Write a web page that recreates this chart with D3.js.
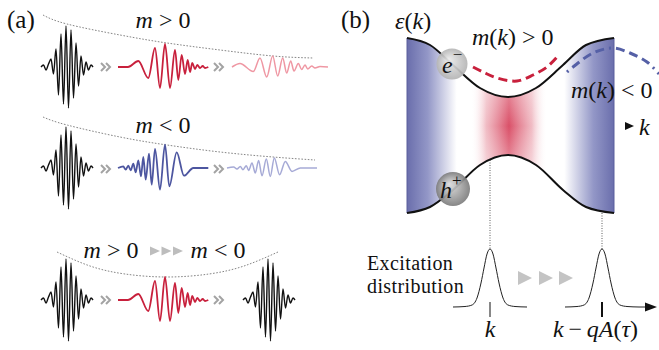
<!DOCTYPE html>
<html>
<head>
<meta charset="utf-8">
<script src="https://cdn.jsdelivr.net/npm/d3@7"></script>
<style>
  body { margin: 0; background: #fff; }
  text { font-family: "Liberation Serif", "Times New Roman", serif; fill: #111; white-space: pre; }
</style>
</head>
<body>
<svg id="fig" width="659" height="350"></svg>
<script>
// wave packet extrema [dx, dy] (px from packet start / baseline)
const blackPacket = [[0,0],[2.5,-2],[5,3],[7.5,-3],[10,-8],[12.5,7],[15,-18],[17.5,28],[20,-33],[22.5,37],[25,-41],
  [27.5,41],[30,-37],[32.5,31],[35,-24],[37.5,19],[40,-11],[42.5,8],[45,-5],[47.5,3],[50,-2],[52,0]];
const redPacket = [[0,0],[10,0],[20.3,-6],[30.3,11],[37,-19],[42,21],[47,-23],[52,21],[57,-17],[60.3,13],[63.7,-12],
  [67,7],[69.7,-7],[72,5],[74.3,-4],[77,2],[79.3,-2],[82,1],[84.7,-1],[87,1],[90.3,0]];
const pinkPacket = [[0,0],[8,-3.5],[21.3,4.5],[28,-9],[34.7,10],[40.7,-11],[45.7,9],[50.7,-9],[54.7,6],[58.7,-6],
  [62,4],[66.3,-3.5],[69.7,2.5],[73,-2],[75.7,2],[79.7,-1],[83,1],[88,-0.5],[96,0]];
const bluePacket = [[0,0],[5.3,-1.6],[7.7,1.7],[10.3,-2.3],[12.7,2.4],[15.3,-4.3],[17.7,4.4],[20.3,-7.6],[23,8.4],
  [25.3,-11],[27.7,11.7],[31,-14.3],[33.7,16.7],[37,-19],[42,21.7],[47,-23.3],[51.3,18.4],[58.7,-15.6],[66,7.7],[75.3,0],[90.3,0]];
const lightBluePacket = [[0,0],[6.6,-1],[10,1],[13.3,-1.6],[16,1.7],[19.3,-2.3],[21.6,2.4],[25,-5],[28.3,5],[31.6,-7.6],
  [35,7.7],[39.3,-9],[43.3,8.4],[47.3,-10],[52.6,6.7],[58.3,-6.6],[65,3.4],[73.3,0],[90,0]];

// dotted envelope guides of panel (a), [x, y]
const envelope1 = [[43,15],[67,24],[120,35],[167,43],[220,50],[273,56],[313,58]];
const envelope2 = [[43,117],[67,125],[120,137],[167,145],[220,152],[273,157],[315,160]];
const envelope3 = [[57,252],[90,266],[125,274],[167,277],[209,274],[244,266],[278,252]];

// band structure of panel (b): k offsets and energy offsets (px)
const kVals = [0, 23, 46, 73, 101, 129, 156, 179, 207];
const upperBand = [0, 7, 27, 50, 59, 50, 27, 7, 0];
const lowerBand = [175, 169, 152, 127, 117, 127, 152, 169, 175];
const massPos = [[66,29],[76,34],[90,40],[110,43],[126,37],[140,29],[150,19]];
const massNeg = [[160,34],[166,29],[186,15],[206,10],[223,15],[240,24],[252,36]];

// excitation distribution [dk, height]
const distribution = [[-37,0],[-25,0.5],[-18,2],[-13,9],[-9,24],[-6,39],[-3,53],[0,58],[3,53],[6,39],[9,24],[13,9],[18,2],[25,0.5],[37,0]];
const distCenters = [83, 195];

const svg = d3.select("#fig");
const defs = svg.append("defs");

// ---------- helpers
function mathText(x, y, parts, size, anchor) {
  const t = svg.append("text").attr("x", x).attr("y", y).attr("font-size", size)
    .attr("text-anchor", anchor || "start");
  parts.forEach(p => {
    const s = t.append("tspan").text(p[0]);
    if (p[1]) s.attr("font-style", "italic");
    if (p[2]) s.attr("dy", p[2]);
    if (p[3]) s.attr("font-size", p[3]);
  });
  return t;
}

function drawPacket(pts, x0, y0, color, w) {
  const sx = d3.scaleLinear().domain([0, 1]).range([x0, x0 + 1]);
  const sy = d3.scaleLinear().domain([0, 1]).range([y0, y0 + 1]);
  svg.append("path").datum(pts)
    .attr("d", d3.line().x(d => sx(d[0])).y(d => sy(d[1])).curve(d3.curveMonotoneX))
    .attr("fill", "none").attr("stroke", color).attr("stroke-width", w)
    .attr("stroke-linejoin", "round");
}

function chevron(x, y) {
  [0, 5].forEach(o => {
    svg.append("polyline")
      .attr("points", [[x + o, y - 4], [x + o + 4, y], [x + o, y + 4]].map(p => p.join(",")).join(" "))
      .attr("fill", "none").attr("stroke", "#a3a3a3").attr("stroke-width", 2);
  });
}

function dotted(pts) {
  svg.append("path").datum(pts)
    .attr("d", d3.line().curve(d3.curveNatural))
    .attr("fill", "none").attr("stroke", "#666").attr("stroke-width", 0.8)
    .attr("stroke-dasharray", "1.6,1.6");
}

function tri(x, y, w, h, color) {
  svg.append("path").attr("d", `M${x},${y - h / 2}L${x + w},${y}L${x},${y + h / 2}Z`).attr("fill", color);
}

// ---------- panel (a)
mathText(7, 28, [["(a)"]], 25);

dotted(envelope1);
dotted(envelope2);
dotted(envelope3);

mathText(163, 28, [["m", 1], [" > 0"]], 24, "middle");
mathText(163, 133, [["m", 1], [" < 0"]], 24, "middle");
mathText(111, 258, [["m", 1], [" > 0"]], 24, "middle");
mathText(218, 258, [["m", 1], [" < 0"]], 24, "middle");
[150, 161.5, 173].forEach(x => tri(x, 251, 10, 9, "#bdbdbd"));

// row 1
drawPacket(blackPacket, 41, 67, "#111", 1.4);
chevron(101, 67);
drawPacket(redPacket, 118, 67, "#c8203c", 1.8);
chevron(214, 67);
drawPacket(pinkPacket, 232, 67, "#ef97a3", 1.5);
// row 2
drawPacket(blackPacket, 41, 168, "#111", 1.4);
chevron(101, 169);
drawPacket(bluePacket, 118, 168, "#4d56a0", 1.8);
chevron(214, 169);
drawPacket(lightBluePacket, 227, 168, "#a6aad6", 1.5);
// row 3
drawPacket(blackPacket, 41, 300, "#111", 1.4);
chevron(101, 300);
drawPacket(redPacket, 118, 300, "#c8203c", 1.8);
chevron(214, 300);
drawPacket(blackPacket, 243, 300, "#111", 1.4);

// ---------- panel (b)
mathText(341, 28, [["(b)"]], 25);

const xB = d3.scaleLinear().domain([0, 207]).range([407, 614]);
const yB = d3.scaleLinear().domain([0, 175]).range([38, 213]);
const band = kVals.map((k, i) => ({ k, up: upperBand[i], lo: lowerBand[i] }));

const gBlue = defs.append("linearGradient").attr("id", "gBlue")
  .attr("gradientUnits", "userSpaceOnUse").attr("x1", xB(0)).attr("x2", xB(207)).attr("y1", 0).attr("y2", 0);
[[0, "#6a6eac"], [0.1, "#9397c7"], [0.24, "#ffffff"], [0.76, "#ffffff"], [0.9, "#9397c7"], [1, "#6a6eac"]]
  .forEach(s => gBlue.append("stop").attr("offset", s[0]).attr("stop-color", s[1]));

// red glow: horizontal fade times a mild vertical fade
const gRed = defs.append("linearGradient").attr("id", "gRed")
  .attr("gradientUnits", "userSpaceOnUse").attr("x1", xB(64)).attr("x2", xB(140)).attr("y1", 0).attr("y2", 0);
[[0, "#ffffff", 0], [0.2, "#eeb0ba", 0.85], [0.5, "#da5068", 1], [0.8, "#eeb0ba", 0.85], [1, "#ffffff", 0]]
  .forEach(s => gRed.append("stop").attr("offset", s[0]).attr("stop-color", s[1]).attr("stop-opacity", s[2]));
const gFade = defs.append("linearGradient").attr("id", "gFade")
  .attr("gradientUnits", "userSpaceOnUse").attr("x1", 0).attr("x2", 0).attr("y1", yB(55)).attr("y2", yB(121));
[[0, 0.3], [0.5, 0], [1, 0.3]]
  .forEach(s => gFade.append("stop").attr("offset", s[0]).attr("stop-color", "#fff").attr("stop-opacity", s[1]));

const area = d3.area().x(d => xB(d.k)).y0(d => yB(d.lo)).y1(d => yB(d.up)).curve(d3.curveMonotoneX);
defs.append("clipPath").attr("id", "bandClip").append("path").datum(band).attr("d", area);

svg.append("path").datum(band).attr("d", area).attr("fill", "url(#gBlue)");
const glow = svg.append("g").attr("clip-path", "url(#bandClip)");
glow.append("rect").attr("x", xB(64)).attr("y", 30).attr("width", xB(140) - xB(64)).attr("height", 190).attr("fill", "url(#gRed)");
glow.append("rect").attr("x", xB(64)).attr("y", 30).attr("width", xB(140) - xB(64)).attr("height", 190).attr("fill", "url(#gFade)");
[0, 207].forEach(k => svg.append("line").attr("x1", xB(k)).attr("x2", xB(k)).attr("y1", yB(0)).attr("y2", yB(175))
  .attr("stroke", "#5a5e9c").attr("stroke-width", 1));

const bandLine = key => d3.line().x(d => xB(d.k)).y(d => yB(d[key])).curve(d3.curveMonotoneX);
svg.append("path").datum(band).attr("d", bandLine("up")).attr("fill", "none").attr("stroke", "#111").attr("stroke-width", 2);
svg.append("path").datum(band).attr("d", bandLine("lo")).attr("fill", "none").attr("stroke", "#111").attr("stroke-width", 2);

const massLine = d3.line().x(d => xB(d[0])).y(d => yB(d[1])).curve(d3.curveCatmullRom);
svg.append("path").datum(massPos).attr("d", massLine).attr("fill", "none")
  .attr("stroke", "#c8203c").attr("stroke-width", 3).attr("stroke-dasharray", "9,5");
svg.append("path").datum(massNeg).attr("d", massLine).attr("fill", "none")
  .attr("stroke", "#5560a6").attr("stroke-width", 3).attr("stroke-dasharray", "2,5,9,5,9,5,9,5");

// carriers
function sphere(id, cx, cy, r, c0, c1) {
  const g = defs.append("radialGradient").attr("id", id).attr("fx", 0.38).attr("fy", 0.35);
  g.append("stop").attr("offset", 0).attr("stop-color", c0);
  g.append("stop").attr("offset", 1).attr("stop-color", c1);
  svg.append("circle").attr("cx", cx).attr("cy", cy).attr("r", r).attr("fill", `url(#${id})`).attr("opacity", 0.92);
}
sphere("sE", 452, 64, 15.5, "#ececec", "#b4b4b4");
sphere("sH", 453, 189, 17, "#e0e0e0", "#7c7c7c");
mathText(442, 73, [["e", 1], ["\u2212", 0, -13, 17]], 24);
mathText(440, 198, [["h", 1], ["+", 0, -12, 17]], 24);

mathText(395, 29, [["\u03b5", 1], ["("], ["k", 1], [")"]], 24);
mathText(472, 45, [["m", 1], ["("], ["k", 1], [") > 0"]], 24);
mathText(571, 98, [["m", 1], ["("], ["k", 1], [") < 0"]], 24);
tri(625, 126, 9, 8, "#111");
mathText(639, 135, [["k", 1]], 24);

// distribution
const yD = d3.scaleLinear().domain([0, 58]).range([307, 249]);
svg.append("line").attr("x1", xB(distCenters[0])).attr("x2", xB(distCenters[0])).attr("y1", yB(lowerBand[3] - 5)).attr("y2", yD(58))
  .attr("stroke", "#333").attr("stroke-width", 0.8).attr("stroke-dasharray", "1,1.5");
svg.append("line").attr("x1", xB(distCenters[1])).attr("x2", xB(distCenters[1])).attr("y1", yB(175)).attr("y2", yD(58))
  .attr("stroke", "#333").attr("stroke-width", 0.8).attr("stroke-dasharray", "1,1.5");

const distLine = c => d3.line().x(d => xB(c + d[0])).y(d => yD(d[1])).curve(d3.curveMonotoneX);
distCenters.forEach(c => svg.append("path").datum(distribution).attr("d", distLine(c))
  .attr("fill", "none").attr("stroke", "#222").attr("stroke-width", 1));
svg.append("line").attr("x1", xB(distCenters[1] + 37)).attr("x2", 648).attr("y1", yD(0)).attr("y2", yD(0))
  .attr("stroke", "#222").attr("stroke-width", 1);
tri(645, yD(0), 12, 9, "#111");

svg.append("line").attr("x1", xB(distCenters[0])).attr("x2", xB(distCenters[0])).attr("y1", 302).attr("y2", 317)
  .attr("stroke", "#111").attr("stroke-width", 1);
svg.append("line").attr("x1", xB(distCenters[1])).attr("x2", xB(distCenters[1])).attr("y1", 302).attr("y2", 317)
  .attr("stroke", "#111").attr("stroke-width", 2);

[518, 539, 559].forEach(x => tri(x, 278, 14, 14, "#c4c4c4"));

// two-line label
svg.append("text").attr("x", 367).attr("y", 270).attr("font-size", 20).attr("letter-spacing", 0.4).text("Excitation");
svg.append("text").attr("x", 367).attr("y", 293).attr("font-size", 20).attr("letter-spacing", 0.4).text("distribution");

mathText(xB(distCenters[0]), 337, [["k", 1]], 24, "middle");
mathText(553, 337, [["k", 1], ["\u2009\u2212\u2009"], ["qA", 1], ["("], ["\u03c4", 1], [")"]], 24);
</script>
</body>
</html>
